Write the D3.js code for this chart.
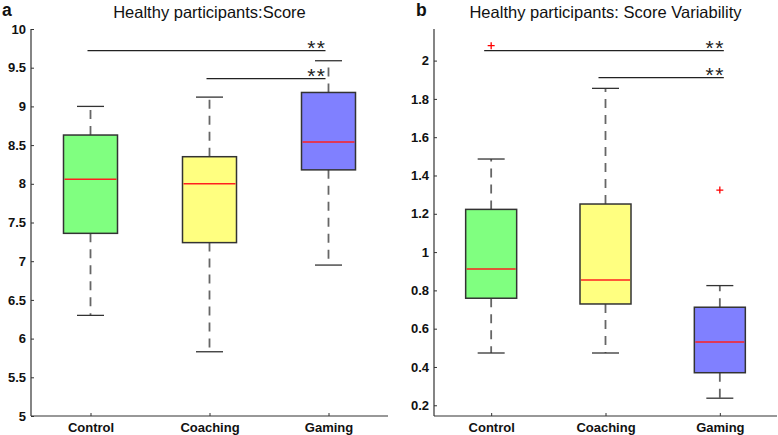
<!DOCTYPE html>
<html><head><meta charset="utf-8">
<script src="https://cdn.jsdelivr.net/npm/d3@7"></script>
<style>
body{margin:0;background:#fff;}
svg{display:block;font-family:"Liberation Sans",Arial,sans-serif;}
</style></head>
<body>
<svg id="c" width="778" height="435"></svg>
<script>
const categories = ["Control", "Coaching", "Gaming"];
const boxColors = ["#80ff80", "#ffff80", "#8080ff"];

// Panel a: Score
const scoreLow    = [6.30, 5.83, 6.95];
const scoreQ1     = [7.36, 7.24, 8.18];
const scoreMedian = [8.06, 8.00, 8.54];
const scoreQ3     = [8.63, 8.35, 9.18];
const scoreHigh   = [9.00, 9.12, 9.59];
const scoreOutliers = [[], [], []];
const scoreTicks = [5, 5.5, 6, 6.5, 7, 7.5, 8, 8.5, 9, 9.5, 10];
const scoreSig = [["Control", "Gaming", 9.72], ["Coaching", "Gaming", 9.36]];

// Panel b: Score variability
const varLow    = [0.473, 0.473, 0.237];
const varQ1     = [0.759, 0.729, 0.370];
const varMedian = [0.912, 0.854, 0.530];
const varQ3     = [1.223, 1.251, 0.712];
const varHigh   = [1.486, 1.855, 0.825];
const varOutliers = [[2.078], [], [1.324]];
const varTicks = [0.2, 0.4, 0.6, 0.8, 1, 1.2, 1.4, 1.6, 1.8, 2];
const varSig = [["Control", "Gaming", 2.052], ["Coaching", "Gaming", 1.911]];

const svg = d3.select("#c");

function panel(o) {
  const g = svg.append("g");
  const x = d3.scalePoint().domain(categories).range([o.x0, o.x1]).padding(0.5);
  const y = d3.scaleLinear().domain(o.domain).range([416, 29]);
  const bw = o.bw, cw = 27;

  categories.forEach((c, i) => {
    const cx = x(c);
    g.append("line").attr("x1", cx).attr("x2", cx).attr("y1", y(o.q3[i])).attr("y2", y(o.high[i]))
      .attr("stroke", "#666").attr("stroke-width", 1.8).attr("stroke-dasharray", "9,7");
    g.append("line").attr("x1", cx).attr("x2", cx).attr("y1", y(o.q1[i])).attr("y2", y(o.low[i]))
      .attr("stroke", "#666").attr("stroke-width", 1.8).attr("stroke-dasharray", "9,7");
    [o.high[i], o.low[i]].forEach(v => {
      g.append("line").attr("x1", cx - cw / 2).attr("x2", cx + cw / 2).attr("y1", y(v)).attr("y2", y(v))
        .attr("stroke", "#333").attr("stroke-width", 1.3);
    });
    g.append("rect").attr("x", cx - bw / 2).attr("width", bw)
      .attr("y", y(o.q3[i])).attr("height", y(o.q1[i]) - y(o.q3[i]))
      .attr("fill", boxColors[i]).attr("stroke", "#333").attr("stroke-width", 1.5);
    g.append("line").attr("x1", cx - bw / 2 + 1).attr("x2", cx + bw / 2 - 1)
      .attr("y1", y(o.med[i])).attr("y2", y(o.med[i])).attr("stroke", "#ff2020").attr("stroke-width", 1.5);
    o.out[i].forEach(v => {
      g.append("path").attr("d", `M${cx - 3.5},${y(v)}h7M${cx},${y(v) - 3.5}v7`)
        .attr("stroke", "#ff0000").attr("stroke-width", 1.3);
    });
  });

  o.sig.forEach(s => {
    const xa = x(s[0]) + o.sigOff[0], xb = x(s[1]) + o.sigOff[1];
    g.append("line").attr("x1", xa).attr("x2", xb).attr("y1", y(s[2])).attr("y2", y(s[2]))
      .attr("stroke", "#222").attr("stroke-width", 1.2);
    g.append("text").attr("x", xb + 1).attr("y", y(s[2]) + 4).attr("text-anchor", "end")
      .attr("font-size", 21).attr("letter-spacing", "1.5px").attr("fill", "#222").text("**");
  });

  const ya = g.append("g").attr("transform", `translate(${o.x0},0)`)
    .call(d3.axisLeft(y).tickValues(o.ticks).tickSize(-3).tickPadding(5).tickFormat(d => String(+d.toFixed(1))));
  ya.select(".domain").attr("d", `M0,${y.range()[1]}V${y.range()[0]}`);
  const xa = g.append("g").attr("transform", "translate(0,416)")
    .call(d3.axisBottom(x).tickSize(-3).tickPadding(7));
  xa.select(".domain").attr("d", `M${o.x0},0H${o.x1}`);
  g.selectAll(".domain").attr("stroke", "#333").attr("stroke-width", 1.2);
  g.selectAll(".tick line").attr("stroke", "#333");
  g.selectAll(".tick text").attr("font-size", 13).attr("font-weight", "bold").attr("fill", "#111")
    .attr("font-family", "Liberation Sans, Arial, sans-serif");

  g.append("text").attr("x", o.tx).attr("y", 17.5).attr("text-anchor", "middle")
    .attr("font-size", 16.5).attr("fill", "#111").text(o.title);
  g.append("text").attr("x", o.lx).attr("y", 16).attr("font-size", 17.5).attr("font-weight", "bold")
    .attr("fill", "#111").text(o.label);
}

panel({x0: 31, x1: 388, domain: [5, 10], bw: 54,
  low: scoreLow, q1: scoreQ1, med: scoreMedian, q3: scoreQ3, high: scoreHigh, out: scoreOutliers,
  ticks: scoreTicks, sig: scoreSig, sigOff: [-3, -3],
  title: "Healthy participants:Score", tx: 209.5, label: "a", lx: 2});

panel({x0: 434, x1: 777, domain: [0.144, 2.165], bw: 51,
  low: varLow, q1: varQ1, med: varMedian, q3: varQ3, high: varHigh, out: varOutliers,
  ticks: varTicks, sig: varSig, sigOff: [-7, 4],
  title: "Healthy participants: Score Variability", tx: 605.5, label: "b", lx: 416});
</script>
</body></html>
